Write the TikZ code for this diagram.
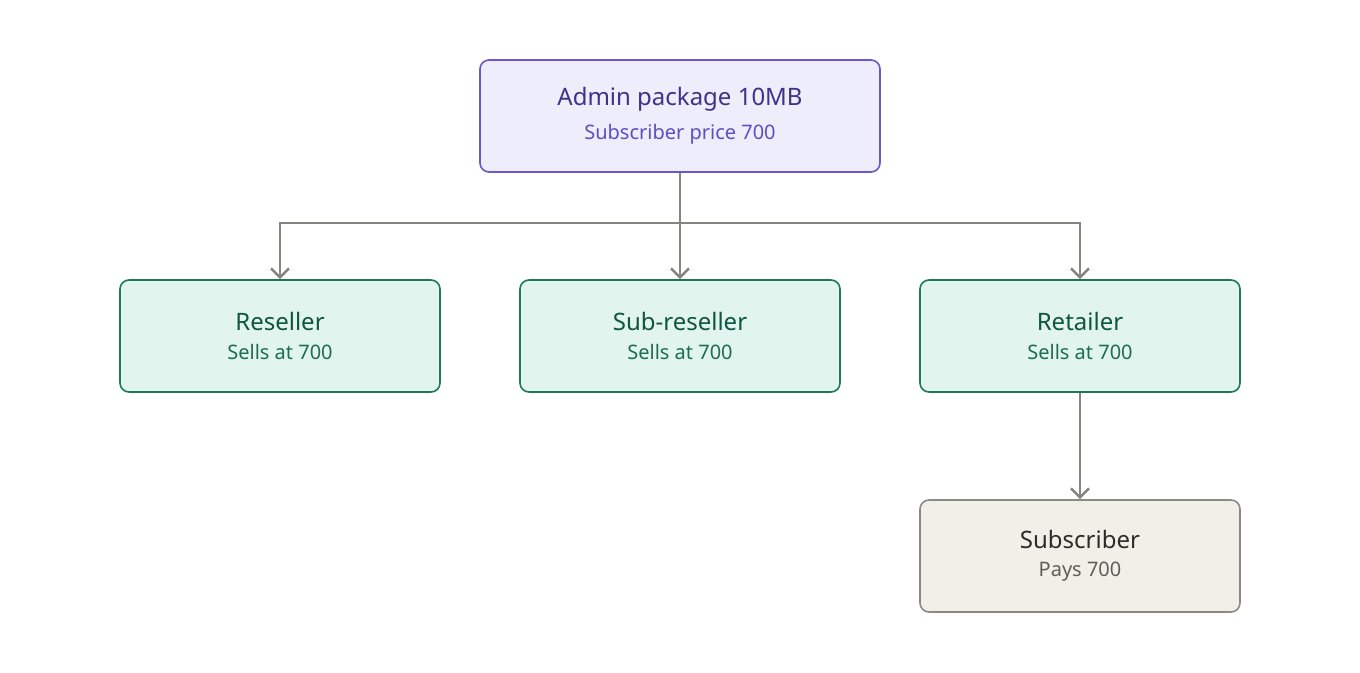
\documentclass[tikz,border=0pt]{standalone}
\usepackage{fontspec}
\setmainfont{Noto Sans}
\usetikzlibrary{positioning,arrows.meta}
\definecolor{adminfill}{HTML}{EEEDFC}
\definecolor{admindraw}{HTML}{6A58C6}
\definecolor{admintitle}{HTML}{3C3489}
\definecolor{adminsub}{HTML}{5B4FC4}
\definecolor{sellfill}{HTML}{E1F5EE}
\definecolor{selldraw}{HTML}{1D7A58}
\definecolor{selltitle}{HTML}{0F5540}
\definecolor{sellsub}{HTML}{1B6E50}
\definecolor{subfill}{HTML}{F1EFE8}
\definecolor{subdraw}{HTML}{8A8A85}
\definecolor{subtitle}{HTML}{2C2C2A}
\definecolor{subsub}{HTML}{5F5E5A}
\definecolor{wire}{HTML}{85857F}
\tikzset{
  box/.style={rounded corners=9pt, line width=1.6pt, minimum width=320pt,
    minimum height=112pt, align=center, inner sep=0pt},
  admin/.style={box, minimum width=400pt, fill=adminfill, draw=admindraw},
  seller/.style={box, fill=sellfill, draw=selldraw},
  buyer/.style={box, fill=subfill, draw=subdraw},
  link/.style={draw=wire, line width=2.6pt, -{Straight Barb[length=9pt,width=18pt,line width=2.6pt]}},
}
\newcommand{\boxtext}[4]{{\fontsize{24}{28}\selectfont\bfseries\color{#1}#2}\\[12pt]{\fontsize{20}{24}\selectfont\color{#3}#4}}
\begin{document}
\begin{tikzpicture}[x=1pt,y=1pt]
  \useasboundingbox (0,0) rectangle (1360,-672);
  \node[admin] (admin) at (680,-116) {\boxtext{admintitle}{Admin package 10MB}{adminsub}{Subscriber price 700}};
  \node[seller] (reseller) at (280,-336) {\boxtext{selltitle}{Reseller}{sellsub}{Sells at 700}};
  \node[seller] (subreseller) at (680,-336) {\boxtext{selltitle}{Sub-reseller}{sellsub}{Sells at 700}};
  \node[seller] (retailer) at (1080,-336) {\boxtext{selltitle}{Retailer}{sellsub}{Sells at 700}};
  \node[buyer] (subscriber) at (1080,-556) {\boxtext{subtitle}{Subscriber}{subsub}{Pays 700}};
  \coordinate (bus) at (680,-223);
  % bus from admin
  \draw[draw=wire, line width=2.6pt] (admin.south) -- (bus);
  \draw[link] (bus) -| (reseller.north);
  \draw[link] (bus) -- (subreseller.north);
  \draw[link] (bus) -| (retailer.north);
  \draw[link] (retailer) -- (subscriber);
\end{tikzpicture}
\end{document}
